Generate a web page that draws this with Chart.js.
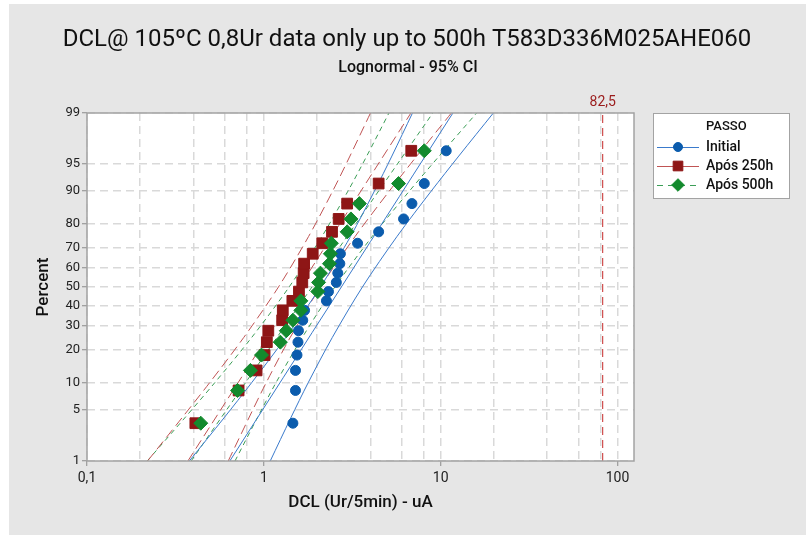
<!DOCTYPE html>
<html lang="en">
<head>
<meta charset="UTF-8">
<title>DCL lognormal probability plot</title>
<script src="https://cdn.jsdelivr.net/npm/chart.js"></script>
<style>
  body { margin: 0; background: #fff; }
  #wrap { width: 806px; height: 535px; }
</style>
</head>
<body>
<div id="wrap"><canvas id="probPlot" width="806" height="535"></canvas></div>
<script>
// plotting positions (median ranks, %), same for the three groups (n = 20)
const rankPercent = [3.43, 8.33, 13.24, 18.14, 23.04, 27.94, 32.84, 37.75, 42.65, 47.55,
                     52.45, 57.35, 62.25, 67.16, 72.06, 76.96, 81.86, 86.76, 91.67, 96.57];

// DCL readings (uA)
const dclInitial = [1.46, 1.51, 1.51, 1.54, 1.56, 1.57, 1.66, 1.70, 2.26, 2.32,
                    2.57, 2.62, 2.69, 2.71, 3.39, 4.46, 6.17, 6.88, 8.08, 10.75];
const dcl250h = [0.41, 0.72, 0.91, 1.01, 1.04, 1.06, 1.27, 1.28, 1.45, 1.58,
                 1.65, 1.68, 1.69, 1.89, 2.14, 2.43, 2.65, 2.96, 4.46, 6.82];
const dcl500h = [0.44, 0.71, 0.84, 0.97, 1.24, 1.34, 1.46, 1.62, 1.62, 2.02,
                 2.04, 2.09, 2.35, 2.38, 2.41, 2.96, 3.11, 3.47, 5.78, 8.08];

// fitted lines, ends at 1% and 99%
const fitPercent = [1, 99];
const fitInitial = [0.642, 11.73];
const fit250h = [0.372, 6.79];
const fit500h = [0.388, 9.03];

// 95% confidence bounds read at these percents
const ciPercent = [1, 4, 10, 25, 50, 75, 90, 96, 99];
const ciInitialLow = [0.379, 0.595, 0.852, 1.33, 2.09, 3.09, 4.22, 5.30, 6.93];
const ciInitialHigh = [1.087, 1.42, 1.78, 2.44, 3.61, 5.66, 8.84, 12.66, 19.86];
const ci250hLow = [0.220, 0.344, 0.493, 0.770, 1.21, 1.79, 2.45, 3.07, 4.01];
const ci250hHigh = [0.629, 0.823, 1.03, 1.41, 2.09, 3.28, 5.12, 7.33, 11.50];
const ci500hLow = [0.219, 0.357, 0.527, 0.854, 1.39, 2.13, 2.99, 3.82, 5.10];
const ci500hHigh = [0.687, 0.918, 1.17, 1.65, 2.52, 4.10, 6.65, 9.81, 15.98];

// spec limit
const refValue = 82.5;
const refLabel = '82,5';

const percentTicks = [1, 5, 10, 20, 30, 40, 50, 60, 70, 80, 90, 95, 99];
const xTickValues = [0.1, 1, 10, 100];
const xTickLabels = ['0,1', '1', '10', '100'];
const xGridValues = [0.1, 0.2, 0.4, 0.6, 0.8, 1, 2, 4, 6, 8, 10, 20, 40, 60, 80, 100];

const FONT = 'Roboto, "Open Sans", sans-serif';

// inverse of the normal cdf (Acklam), percent -> z
function probit(pct) {
  const p = pct / 100;
  const a = [-39.69683028665376, 220.9460984245205, -275.9285104469687, 138.3577518672690, -30.66479806614716, 2.506628277459239];
  const b = [-54.47609879822406, 161.5858368580409, -155.6989798598866, 66.80131188771972, -13.28068155288572];
  const c = [-0.007784894002430293, -0.3223964580411365, -2.400758277161838, -2.549732539343734, 4.374664141464968, 2.938163982698783];
  const d = [0.007784695709041462, 0.3224671290700398, 2.445134137142996, 3.754408661907416];
  const tail = q => (((((c[0] * q + c[1]) * q + c[2]) * q + c[3]) * q + c[4]) * q + c[5]) /
                    ((((d[0] * q + d[1]) * q + d[2]) * q + d[3]) * q + 1);
  if (p < 0.02425) return tail(Math.sqrt(-2 * Math.log(p)));
  if (p > 1 - 0.02425) return -tail(Math.sqrt(-2 * Math.log(1 - p)));
  const q = p - 0.5, r = q * q;
  return (((((a[0] * r + a[1]) * r + a[2]) * r + a[3]) * r + a[4]) * r + a[5]) * q /
         (((((b[0] * r + b[1]) * r + b[2]) * r + b[3]) * r + b[4]) * r + 1);
}

const toXY = (xs, ps) => xs.map((v, i) => ({ x: v, y: probit(ps[i]) }));

const groups = [
  { label: 'Initial', values: dclInitial, fit: fitInitial, lo: ciInitialLow, hi: ciInitialHigh,
    pointStyle: 'circle', radius: 5, color: '#0b5cad', line: '#3a7acc', dash: [], legendDash: [] },
  { label: 'Após 250h', values: dcl250h, fit: fit250h, lo: ci250hLow, hi: ci250hHigh,
    pointStyle: 'rect', radius: 7.6, color: '#8e1616', line: '#c05454', dash: [10, 5], legendDash: [] },
  { label: 'Após 500h', values: dcl500h, fit: fit500h, lo: ci500hLow, hi: ci500hHigh,
    pointStyle: 'rectRot', radius: 7, color: '#138a2d', line: '#3c9e57', dash: [5, 4], legendDash: [6, 5] }
];

const datasets = [];
groups.forEach((g, gi) => {
  datasets.push({
    label: g.label,
    data: toXY(g.values, rankPercent),
    pointStyle: g.pointStyle,
    pointRadius: g.radius,
    backgroundColor: g.color,
    borderColor: g.color,
    borderWidth: 1,
    order: 2 - gi
  });
  [[g.fit, fitPercent], [g.lo, ciPercent], [g.hi, ciPercent]].forEach(([xs, ps]) => {
    datasets.push({
      data: toXY(xs, ps),
      showLine: true,
      pointRadius: 0,
      borderColor: g.line,
      borderWidth: 1,
      borderDash: g.dash,
      tension: 0.3,
      order: 5
    });
  });
});
datasets.push({
  data: [{ x: refValue, y: probit(1) }, { x: refValue, y: probit(99) }],
  showLine: true,
  pointRadius: 0,
  borderColor: '#c62828',
  borderWidth: 1,
  borderDash: [8, 5],
  order: 6
});

// background, frame, titles, legend and limit label
const chrome = {
  id: 'chrome',
  beforeDraw(chart) {
    const { ctx, chartArea: a } = chart;
    ctx.save();
    ctx.fillStyle = '#fff';
    ctx.fillRect(0, 0, chart.width, chart.height);
    ctx.fillStyle = '#e6e6e6';
    ctx.fillRect(9, 4, 797, 531);
    ctx.fillStyle = '#fff';
    ctx.fillRect(a.left, a.top, a.right - a.left, a.bottom - a.top);
    ctx.restore();
  },
  afterDraw(chart) {
    const { ctx, chartArea: a } = chart;
    ctx.save();
    ctx.strokeStyle = '#a3a3a3';
    ctx.lineWidth = 1.5;
    ctx.strokeRect(a.left, a.top, a.right - a.left, a.bottom - a.top);

    ctx.fillStyle = '#111';
    ctx.textAlign = 'center';
    ctx.textBaseline = 'middle';
    ctx.font = '24px ' + FONT;
    ctx.fillText('DCL@ 105ºC 0,8Ur data only up to 500h T583D336M025AHE060', 407, 40);
    ctx.font = '500 16px ' + FONT;
    ctx.fillText('Lognormal - 95% CI', 408, 68);

    // limit label
    const rx = chart.scales.x.getPixelForValue(refValue);
    ctx.fillStyle = '#9b1c1c';
    ctx.font = '14px ' + FONT;
    ctx.fillText(refLabel, rx, a.top - 11);

    // legend
    ctx.fillStyle = '#fff';
    ctx.fillRect(653, 113, 136, 85);
    ctx.strokeStyle = '#a3a3a3';
    ctx.lineWidth = 1;
    ctx.strokeRect(653.5, 113.5, 136, 85);
    ctx.fillStyle = '#111';
    ctx.textAlign = 'left';
    ctx.font = '500 13px ' + FONT;
    ctx.fillText('PASSO', 706, 127);
    groups.forEach((g, i) => {
      const y = 147 + i * 19;
      ctx.strokeStyle = g.line;
      ctx.setLineDash(g.legendDash);
      ctx.beginPath();
      ctx.moveTo(657, y + 0.5);
      ctx.lineTo(699, y + 0.5);
      ctx.stroke();
      ctx.setLineDash([]);
      ctx.fillStyle = g.color;
      ctx.strokeStyle = g.color;
      Chart.helpers.drawPoint(ctx, { pointStyle: g.pointStyle, radius: g.radius * 0.9, rotation: 0, borderWidth: 1 }, 678, y);
      ctx.fillStyle = '#111';
      ctx.font = '500 14px ' + FONT;
      ctx.fillText(g.label, 706, y);
    });
    ctx.restore();
  }
};

new Chart(document.getElementById('probPlot'), {
  type: 'scatter',
  data: { datasets },
  plugins: [chrome],
  options: {
    responsive: false,
    animation: false,
    layout: { padding: { left: 9, right: 172, top: 113, bottom: 0 } },
    plugins: { legend: { display: false }, tooltip: { enabled: false } },
    scales: {
      x: {
        type: 'logarithmic',
        min: 0.1,
        max: 124,
        afterBuildTicks: s => { s.ticks = xGridValues.map(v => ({ value: v })); },
        afterFit: s => { s.height = 74; },
        ticks: {
          autoSkip: false,
          maxRotation: 0,
          padding: 4,
          color: '#222',
          font: { family: FONT, size: 14 },
          callback: v => { const k = xTickValues.indexOf(v); return k >= 0 ? xTickLabels[k] : ''; }
        },
        grid: {
          color: '#d9d9d9',
          lineWidth: 1.5,
          tickLength: 5,
          tickWidth: 1,
          tickBorderDash: [],
          tickColor: c => (c.tick && xTickValues.includes(c.tick.value)) ? '#8a8a8a' : 'rgba(0,0,0,0)'
        },
        border: { display: false, dash: [8, 5] },
        title: {
          display: true,
          text: 'DCL (Ur/5min) - uA',
          color: '#111',
          font: { family: FONT, size: 17, weight: '500' },
          padding: { top: 0, bottom: 22 }
        }
      },
      y: {
        type: 'linear',
        min: probit(1),
        max: probit(99),
        afterBuildTicks: s => { s.ticks = percentTicks.map(p => ({ value: probit(p) })); },
        afterFit: s => { s.width = 78; },
        ticks: {
          autoSkip: false,
          padding: 2,
          color: '#222',
          font: { family: FONT, size: 13 },
          callback: (v, i) => String(percentTicks[i])
        },
        grid: {
          color: '#d9d9d9',
          lineWidth: 1.5,
          tickLength: 5,
          tickWidth: 1,
          tickBorderDash: [],
          tickColor: '#8a8a8a'
        },
        border: { display: false, dash: [8, 5] },
        title: {
          display: true,
          text: 'Percent',
          color: '#111',
          font: { family: FONT, size: 17, weight: '500' },
          padding: { top: 25, bottom: 0 }
        }
      }
    }
  }
});
</script>
</body>
</html>
